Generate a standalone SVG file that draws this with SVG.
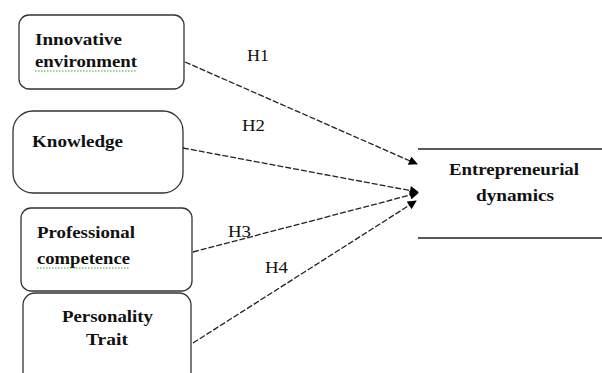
<svg xmlns="http://www.w3.org/2000/svg" width="602" height="373" viewBox="0 0 602 373">
<style>
.box{fill:#fff;stroke:#333;stroke-width:1.3}
.t{font-family:"Liberation Serif","Times New Roman",serif;font-weight:bold;font-size:16px;fill:#111}
.h{font-family:"Liberation Serif","Times New Roman",serif;font-size:17px;fill:#111}
.c{fill:none;stroke:#222;stroke-width:1.3;stroke-dasharray:6 2}
.sq{fill:none;stroke:#3a3;stroke-width:1;stroke-dasharray:1.5 1.5}
.rule{stroke:#222;stroke-width:1.6}
</style>
<defs>
<marker id="ah" viewBox="0 0 10 10" refX="9" refY="5" markerWidth="10" markerHeight="9" markerUnits="userSpaceOnUse" orient="auto">
<path d="M0,0 L10,5 L0,10 z" fill="#000"/>
</marker>
</defs>
<g id="n1">
<rect class="box" x="19" y="15" width="165" height="74" rx="10"/>
<text class="t" x="35" y="45" textLength="87" lengthAdjust="spacingAndGlyphs">Innovative</text>
<text class="t" x="35" y="67" textLength="102" lengthAdjust="spacingAndGlyphs">environment</text>
<line class="sq" x1="35" y1="71" x2="137" y2="71"/>
</g>
<g id="n2">
<rect class="box" x="13" y="111" width="170" height="82" rx="20"/>
<text class="t" x="32" y="147" textLength="91" lengthAdjust="spacingAndGlyphs">Knowledge</text>
</g>
<g id="n3">
<rect class="box" x="21" y="208" width="171" height="83" rx="10"/>
<text class="t" x="37" y="238" textLength="98" lengthAdjust="spacingAndGlyphs">Professional</text>
<text class="t" x="37" y="264" textLength="93" lengthAdjust="spacingAndGlyphs">competence</text>
<line class="sq" x1="37" y1="268" x2="130" y2="268"/>
</g>
<g id="n4">
<rect class="box" x="23" y="293" width="168" height="100" rx="12"/>
<text class="t" x="62" y="322" textLength="91" lengthAdjust="spacingAndGlyphs">Personality</text>
<text class="t" x="86" y="345" textLength="42" lengthAdjust="spacingAndGlyphs">Trait</text>
</g>
<g id="n5">
<line class="rule" x1="418" y1="149" x2="602" y2="149"/>
<line class="rule" x1="418" y1="238" x2="602" y2="238"/>
<text class="t" x="449" y="175" textLength="130" lengthAdjust="spacingAndGlyphs">Entrepreneurial</text>
<text class="t" x="476" y="201" textLength="78" lengthAdjust="spacingAndGlyphs">dynamics</text>
</g>
<g id="connectors">
<line class="c" x1="185" y1="62" x2="417" y2="164" marker-end="url(#ah)"/>
<line class="c" x1="183" y1="148" x2="418" y2="192" marker-end="url(#ah)"/>
<line class="c" x1="193" y1="252" x2="418" y2="193" marker-end="url(#ah)"/>
<line class="c" x1="193" y1="343" x2="416" y2="201" marker-end="url(#ah)"/>
<text class="h" x="247" y="61" textLength="22" lengthAdjust="spacingAndGlyphs">H1</text>
<text class="h" x="242" y="131" textLength="23" lengthAdjust="spacingAndGlyphs">H2</text>
<text class="h" x="228" y="237" textLength="23" lengthAdjust="spacingAndGlyphs">H3</text>
<text class="h" x="265" y="273" textLength="23" lengthAdjust="spacingAndGlyphs">H4</text>
</g>
</svg>
